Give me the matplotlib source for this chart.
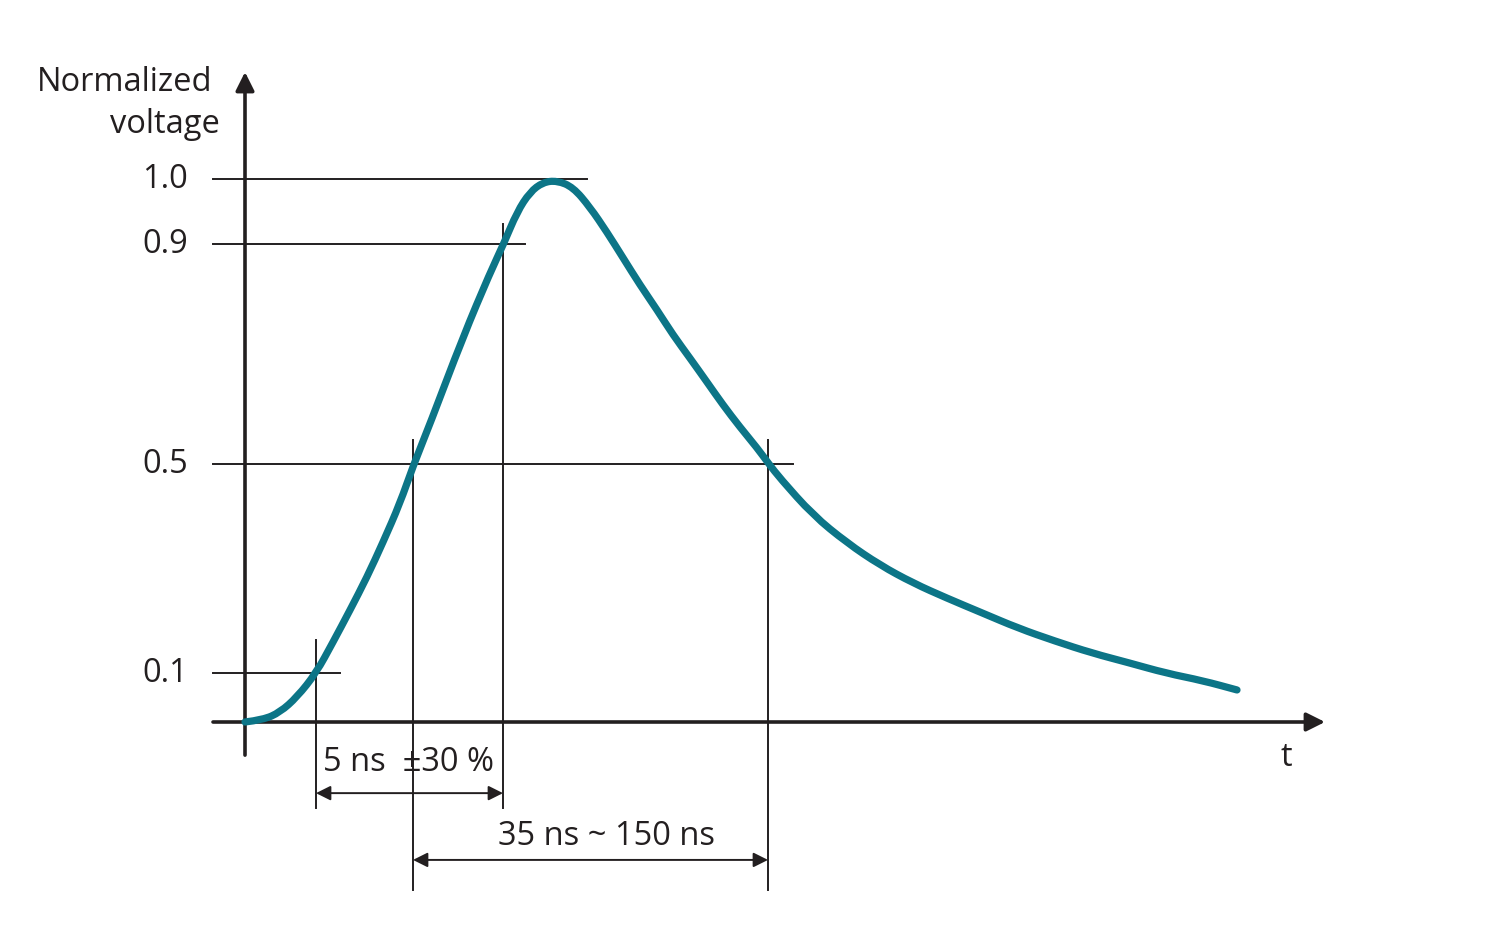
import matplotlib
matplotlib.use('Agg')
import matplotlib.pyplot as plt
from matplotlib.path import Path
from matplotlib.patches import PathPatch

plt.rcParams['font.family'] = ['Open Sans', 'DejaVu Sans']

# pulse shape (t in arbitrary units, v normalized)
pulse_t = [0.0, 1.8, 3.5, 5.2, 7.1, 8.8, 10.5, 12.2, 13.8, 15.5, 16.8,
           18.5, 21.8, 24.5, 25.9, 27.2, 28.5, 29.8, 31.2, 32.8, 34.5,
           36.2, 37.8, 39.5, 41.2, 42.8, 44.5, 46.2, 47.8, 49.5, 51.2,
           52.4, 53.5, 56.8, 60.2, 63.5, 66.8, 70.2, 73.7, 77.3, 81.0,
           84.7, 88.4, 92.1, 95.8, 99.2]
pulse_v = [0.000, 0.004, 0.018, 0.046, 0.090, 0.147, 0.206, 0.267, 0.331,
           0.403, 0.471, 0.549, 0.709, 0.827, 0.882, 0.939, 0.976, 0.994,
           0.997, 0.985, 0.948, 0.902, 0.855, 0.805, 0.759, 0.713, 0.670,
           0.626, 0.584, 0.543, 0.505, 0.475, 0.449, 0.381, 0.330, 0.289,
           0.256, 0.228, 0.201, 0.173, 0.149, 0.127, 0.109, 0.090, 0.076,
           0.059]

# level lines (drawn height, label, where the line stops)
level_pos = [0.090, 0.475, 0.880, 1.0]
level_labels = ['0.1', '0.5', '0.9', '1.0']
level_end = [9.5, 54.8, 28.0, 34.2]

# crossing times marked with vertical lines (t, top, bottom)
mark_t = [7.1, 16.8, 25.8, 52.3]
mark_top = [0.151, 0.519, 0.917, 0.519]
mark_bottom = [-0.158, -0.309, -0.158, -0.309]

# dimension arrows
dim_start = [7.1, 16.8]
dim_end = [25.8, 52.3]
dim_level = [-0.131, -0.254]
dim_labels = ['5 ns  ±30 %', '35 ns ~ 150 ns']

INK = '#231f20'
TEAL = '#0c7587'
FS = 23.5

fig = plt.figure(figsize=(15, 9.36), dpi=100)
ax = fig.add_axes([0, 0, 1, 1])
ax.set_xlim(-24.5, 125.5)
ax.set_ylim(-214 / 543, 722 / 543)
ax.axis('off')

# level lines and labels
for pos, lab, end in zip(level_pos, level_labels, level_end):
    ax.plot([-3.2, end], [pos, pos], color=INK, lw=1.4, zorder=2)
    ax.text(-5.7, pos, lab, ha='right', va='center', fontsize=FS, color=INK)

for t, top, bot in zip(mark_t, mark_top, mark_bottom):
    ax.plot([t, t], [bot, top], color=INK, lw=1.4, zorder=2)

# axes with arrowheads
ax.annotate('', xy=(0, 1.197), xytext=(0, -0.061),
            arrowprops=dict(arrowstyle='-|>', color=INK, lw=2.6,
                            mutation_scale=28, shrinkA=0, shrinkB=0),
            zorder=3)
ax.annotate('', xy=(108.0, 0), xytext=(-3.2, 0),
            arrowprops=dict(arrowstyle='-|>', color=INK, lw=2.6,
                            mutation_scale=28, shrinkA=0, shrinkB=0),
            zorder=3)

# the pulse, drawn as a smooth path through the read points
pts = list(zip(pulse_t, pulse_v))
verts = [pts[0]]
codes = [Path.MOVETO]
for i in range(1, len(pts) - 1):
    mid = ((pts[i][0] + pts[i + 1][0]) / 2, (pts[i][1] + pts[i + 1][1]) / 2)
    verts += [pts[i], mid]
    codes += [Path.CURVE3, Path.CURVE3]
verts.append(pts[-1])
codes.append(Path.LINETO)
curve = PathPatch(Path(verts, codes), facecolor='none', edgecolor=TEAL,
                  lw=5.2, capstyle='round', joinstyle='round', zorder=4)
ax.add_patch(curve)

# dimension arrows
for a, b, lev in zip(dim_start, dim_end, dim_level):
    ax.annotate('', xy=(b, lev), xytext=(a, lev),
                arrowprops=dict(arrowstyle='<|-|>', color=INK, lw=1.4,
                                mutation_scale=22, shrinkA=0, shrinkB=0))

ax.text(7.8, -0.074, dim_labels[0], ha='left', va='center', fontsize=FS,
        color=INK)
ax.text(36.2, -0.210, dim_labels[1], ha='center', va='center', fontsize=FS,
        color=INK)

ax.text(104.1, -0.066, 't', ha='center', va='center', fontsize=FS, color=INK)
ax.text(-3.3, 1.177, 'Normalized', ha='right', va='center', fontsize=FS,
        color=INK)
ax.text(-2.5, 1.101, 'voltage', ha='right', va='center', fontsize=FS,
        color=INK)

fig.savefig('out.png', dpi=100)
